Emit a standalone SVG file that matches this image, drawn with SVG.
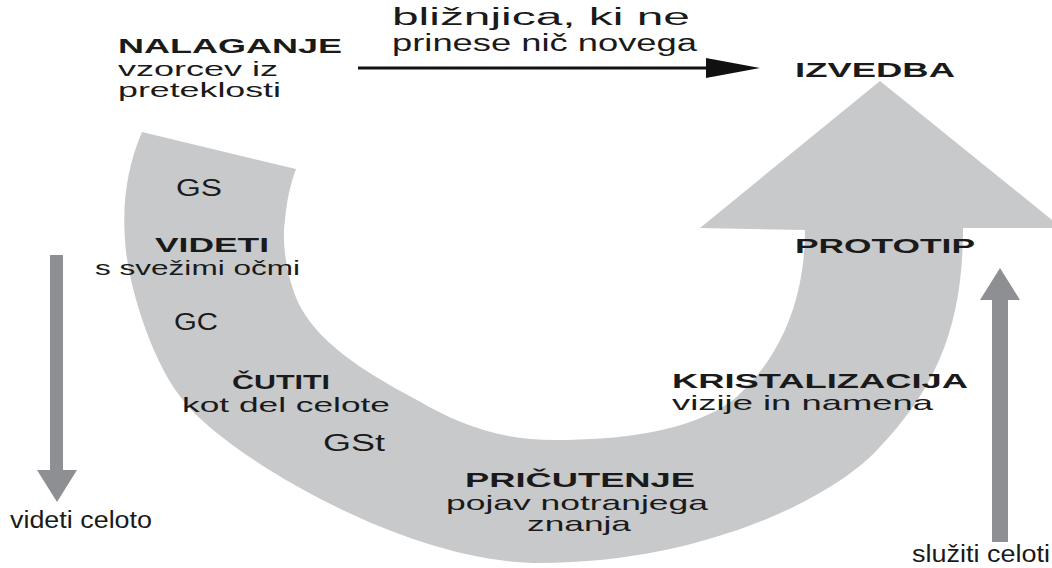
<svg xmlns="http://www.w3.org/2000/svg" width="1052" height="568" viewBox="0 0 1052 568">
<defs>
<style>
.b{font-family:"Liberation Sans",Arial,sans-serif;font-weight:bold;font-size:20px;fill:#1a1a1a}
.r{font-family:"Liberation Sans",Arial,sans-serif;font-size:21px;fill:#1a1a1a}
.big{font-size:23px}
.sm{font-size:20px}
.thin{fill:#8e8f93}
</style>
</defs>
<rect width="1052" height="568" fill="#fff"/>
<g id="u-arrow">
<path fill="#c8c9cb" d="M142,132 C128,165 122,200 125,240 C127,280 150,360 183,400 C220,450 400,563 540,563 C700,563 830,500 877,450 C940,385 963,320 963,228 L1062,228 L880,81 L700,228 L805,230 C805,300 780,360 733,400 C690,432 620,440 555,440 C500,440 460,425 417,400 C360,370 315,340 297,300 C285,270 282,240 285,220 C287,200 290,185 296,169 Z"/>
</g>
<g id="connectors">
<line x1="358" y1="68" x2="712" y2="68" stroke="#111" stroke-width="3"/>
<path d="M706,58 L760,68 L706,78 Z" fill="#111"/>
<path class="thin" d="M50,255 L63,255 L63,470 L77,470 L57,502 L37,470 L50,470 Z"/>
<path class="thin" d="M992,542 L1008,542 L1008,300 L1020,300 L1000,268 L980,300 L992,300 Z"/>
</g>
<g id="nalaganje">
<text class="b" x="118" y="53" textLength="224" lengthAdjust="spacingAndGlyphs">NALAGANJE</text>
<text class="r sm" x="118" y="76" textLength="160" lengthAdjust="spacingAndGlyphs">vzorcev iz</text>
<text class="r sm" x="118" y="97" textLength="163" lengthAdjust="spacingAndGlyphs">preteklosti</text>
</g>
<g id="bliznjica">
<text class="r big" x="392" y="25" textLength="298" lengthAdjust="spacingAndGlyphs">bližnjica, ki ne</text>
<text class="r big" x="392" y="51" textLength="305" lengthAdjust="spacingAndGlyphs">prinese nič novega</text>
</g>
<g id="izvedba"><text class="b" x="795" y="77" textLength="160" lengthAdjust="spacingAndGlyphs">IZVEDBA</text></g>
<g id="gs"><text class="r big" x="176" y="196" textLength="46" lengthAdjust="spacingAndGlyphs">GS</text></g>
<g id="videti">
<text class="b" x="155" y="252" textLength="114" lengthAdjust="spacingAndGlyphs">VIDETI</text>
<text class="r" x="95" y="275" textLength="205" lengthAdjust="spacingAndGlyphs">s svežimi očmi</text>
</g>
<g id="gc"><text class="r big" x="174" y="330" textLength="44" lengthAdjust="spacingAndGlyphs">GC</text></g>
<g id="cutiti">
<text class="b" x="232" y="389" textLength="98" lengthAdjust="spacingAndGlyphs">ČUTITI</text>
<text class="r" x="182" y="412" textLength="208" lengthAdjust="spacingAndGlyphs">kot del celote</text>
</g>
<g id="gst"><text class="r big" x="323" y="451" textLength="62" lengthAdjust="spacingAndGlyphs">GSt</text></g>
<g id="pricutenje">
<text class="b" x="465" y="487" textLength="230" lengthAdjust="spacingAndGlyphs">PRIČUTENJE</text>
<text class="r" x="446" y="510" textLength="262" lengthAdjust="spacingAndGlyphs">pojav notranjega</text>
<text class="r" x="527" y="531" textLength="104" lengthAdjust="spacingAndGlyphs">znanja</text>
</g>
<g id="kristalizacija">
<text class="b" x="672" y="388" textLength="296" lengthAdjust="spacingAndGlyphs">KRISTALIZACIJA</text>
<text class="r" x="672" y="410" textLength="261" lengthAdjust="spacingAndGlyphs">vizije in namena</text>
</g>
<g id="prototip"><text class="b" x="795" y="253" textLength="180" lengthAdjust="spacingAndGlyphs">PROTOTIP</text></g>
<g id="videti-celoto"><text class="r big" x="10" y="528" textLength="142" lengthAdjust="spacingAndGlyphs">videti celoto</text></g>
<g id="sluziti"><text class="r big" x="912" y="562" textLength="138" lengthAdjust="spacingAndGlyphs">služiti celoti</text></g>
</svg>
